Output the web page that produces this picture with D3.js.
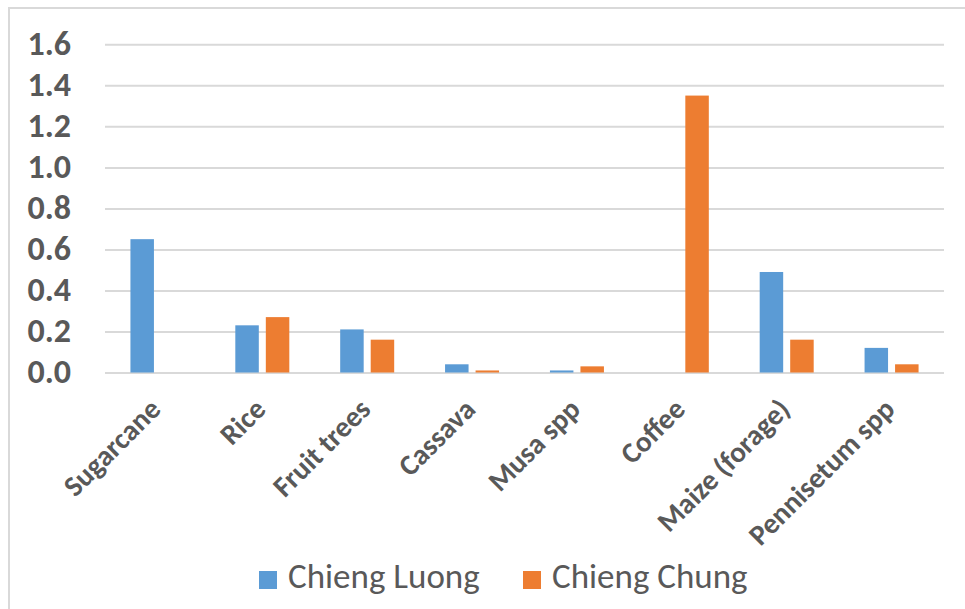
<!DOCTYPE html>
<html>
<head>
<meta charset="utf-8">
<script src="https://cdn.jsdelivr.net/npm/d3@7"></script>
<style>
  html, body { margin: 0; padding: 0; background: #fff; }
  svg { display: block; }
</style>
</head>
<body>
<svg id="chart" width="965" height="609"></svg>
<script>
// Crop area by village
const categories = ["Sugarcane", "Rice", "Fruit trees", "Cassava", "Musa spp", "Coffee", "Maize (forage)", "Pennisetum spp"];
const seriesNames = ["Chieng Luong", "Chieng Chung"];
const chiengLuong = [0.65, 0.23, 0.21, 0.04, 0.01, 0, 0.49, 0.12];
const chiengChung = [0, 0.27, 0.16, 0.01, 0.03, 1.35, 0.16, 0.04];
const yTicks = [0, 0.2, 0.4, 0.6, 0.8, 1.0, 1.2, 1.4, 1.6];
const colors = ["#5B9BD5", "#ED7D31"];

const FONT = "Carlito, Calibri, 'Open Sans', sans-serif";
const svg = d3.select("#chart");
const textColor = "#595959";
const gridColor = "#d9d9d9";

// Chart frame
svg.append("rect")
  .attr("x", 9).attr("y", 8)
  .attr("width", 975).attr("height", 620)
  .attr("fill", "none")
  .attr("stroke", gridColor)
  .attr("stroke-width", 2);

const plot = { left: 105, right: 944, top: 44.3, bottom: 372.5 };

const y = d3.scaleLinear().domain([0, 1.6]).range([plot.bottom, plot.top]);
const x0 = d3.scaleBand().domain(categories).range([plot.left, plot.right]).padding(0);
const x1 = d3.scaleBand().domain(seriesNames)
  .range([x0.bandwidth() / 2 - 27, x0.bandwidth() / 2 + 27])
  .paddingInner(0.23).paddingOuter(0);

// Gridlines and value axis labels
const yAxis = d3.axisLeft(y)
  .tickValues(yTicks)
  .tickSize(-(plot.right - plot.left))
  .tickFormat(d3.format(".1f"))
  .tickPadding(34);

const gy = svg.append("g")
  .attr("transform", `translate(${plot.left},0)`)
  .call(yAxis)
  .attr("font-family", FONT);
gy.select(".domain").remove();
gy.selectAll(".tick line")
  .attr("stroke", gridColor)
  .attr("stroke-width", 2);
gy.selectAll(".tick text")
  .attr("fill", textColor)
  .attr("font-size", 34)
  .attr("font-weight", "bold")
  .attr("dy", "0.3em");

// Bars
const rows = categories.map((c, i) => ({ cat: c, values: [chiengLuong[i], chiengChung[i]] }));
const groups = svg.append("g").selectAll("g")
  .data(rows)
  .join("g")
  .attr("transform", d => `translate(${x0(d.cat)},0)`);

groups.selectAll("rect")
  .data(d => d.values.map((v, j) => ({ key: seriesNames[j], value: v, j })))
  .join("rect")
  .attr("x", d => x1(d.key))
  .attr("width", x1.bandwidth())
  .attr("y", d => y(d.value))
  .attr("height", d => y(0) - y(d.value))
  .attr("fill", d => colors[d.j]);

// Category labels
const gx = svg.append("g").attr("font-family", FONT);
gx.selectAll("text")
  .data(categories)
  .join("text")
  .attr("transform", d => `translate(${x0(d) + x0.bandwidth() / 2 + 5},411) rotate(-45)`)
  .attr("text-anchor", "end")
  .attr("fill", textColor)
  .attr("font-size", 29)
  .attr("font-weight", "bold")
  .text(d => d);

// Legend
const legendItems = [
  { name: seriesNames[0], color: colors[0], x: 259 },
  { name: seriesNames[1], color: colors[1], x: 523 }
];
const lg = svg.append("g").attr("font-family", FONT);
const li = lg.selectAll("g").data(legendItems).join("g")
  .attr("transform", d => `translate(${d.x},0)`);
li.append("rect")
  .attr("x", 0).attr("y", 571)
  .attr("width", 18).attr("height", 18)
  .attr("fill", d => d.color);
li.append("text")
  .attr("x", 29).attr("y", 588)
  .attr("fill", textColor)
  .attr("font-size", 35)
  .text(d => d.name);
</script>
</body>
</html>
